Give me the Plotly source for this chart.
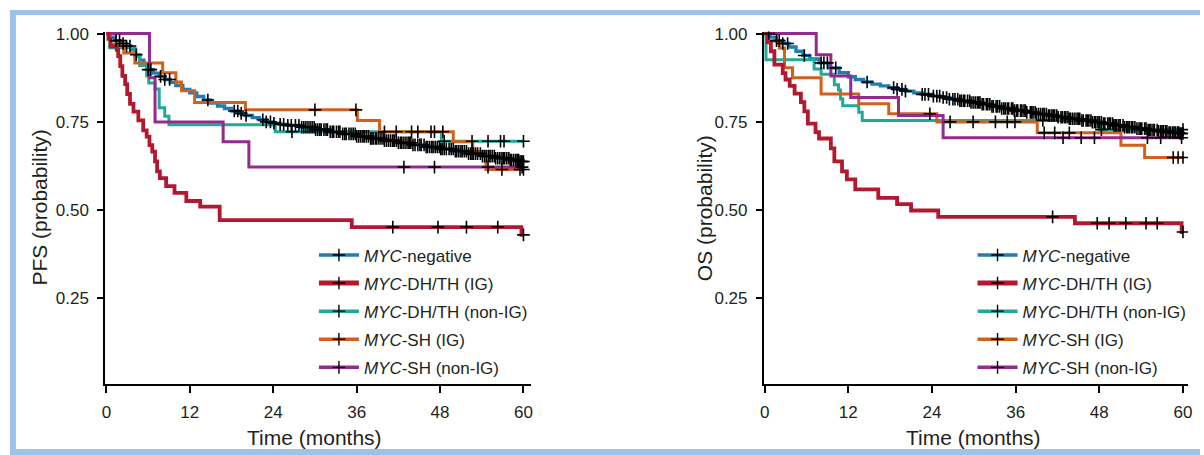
import numpy as np
import plotly.graph_objects as go

W, H = 1204, 455
END = 60

# ---------------- PFS (left panel) ----------------
pfs_neg_t = [0, 0.5, 1.2, 2.0, 2.8, 3.5, 4.2, 4.8, 5.4, 6.0, 6.8, 7.6, 8.4, 9.2, 10, 11, 12, 13, 14, 15, 16, 17, 18, 19, 20, 21, 22, 23, 24, 25, 26, 28, 30, 32, 34, 36, 38, 40, 42, 44, 46, 48, 50, 52, 54, 56, 58, 59.5]
pfs_neg_v = [1.0, 0.99, 0.98, 0.972, 0.965, 0.955, 0.94, 0.925, 0.91, 0.898, 0.888, 0.879, 0.87, 0.862, 0.853, 0.842, 0.832, 0.822, 0.812, 0.803, 0.795, 0.788, 0.781, 0.774, 0.768, 0.762, 0.756, 0.75, 0.746, 0.743, 0.74, 0.735, 0.728, 0.722, 0.716, 0.709, 0.703, 0.697, 0.691, 0.685, 0.679, 0.673, 0.667, 0.66, 0.653, 0.647, 0.642, 0.638]
pfs_neg_c = [1.4, 1.9, 2.4, 2.9, 3.4, 4.3, 6.0, 6.4, 7.8, 8.4, 9.1, 14.6, 18.4, 18.9, 19.4, 20.1, 22.5, 23.0, 23.6, 24.1, 25.0, 25.5, 26.1, 26.6, 27.2, 27.7,
             28.1, 28.4, 28.7, 29.0, 29.3, 29.6, 29.9, 30.1, 30.4, 30.7, 30.9, 31.3, 31.6, 31.8, 32.2, 32.5, 32.7, 33.1, 33.4, 33.6, 34.0, 34.3, 34.5, 34.9, 35.2, 35.5,
             35.8, 36.0, 36.3, 36.6, 36.9, 37.1, 37.4, 37.7, 38.0, 38.2, 38.4, 38.7, 38.9, 39.2, 39.5, 39.8, 40.0, 40.3, 40.6, 40.9, 41.2, 41.4, 41.7, 42.0, 42.3,
             42.5, 42.8, 43.1, 43.4, 43.6, 43.8, 44.1, 44.4, 44.8, 45.1, 45.3, 45.7, 46.0, 46.2, 46.5, 46.8, 47.0, 47.3, 47.6, 47.9, 48.1, 48.3, 48.6, 48.9, 49.3,
             49.6, 49.9, 50.2, 50.4, 50.7, 51.0, 51.2, 51.5, 51.8, 52.1, 52.4, 52.6, 52.8, 53.1, 53.4, 53.8, 54.1, 54.4, 54.7, 55.0, 55.2, 55.5, 55.8, 56.0, 56.3,
             56.6, 56.9, 57.1, 57.3, 57.6, 57.9, 58.1, 58.3, 58.6, 58.9, 59.1, 59.3, 59.5, 59.7, 59.8, 60.0]

pfs_dh_ig_t = [0, 0.3, 0.6, 1.5, 1.7, 2.0, 2.3, 2.7, 3.0, 3.4, 3.9, 4.6, 5.3, 5.8, 6.2, 6.6, 7.0, 7.3, 7.7, 8.6, 9.8, 11.5, 13.5, 16.3, 35.3, 59.7]
pfs_dh_ig_v = [1.0, 0.985, 0.964, 0.954, 0.936, 0.908, 0.88, 0.857, 0.829, 0.801, 0.779, 0.754, 0.726, 0.708, 0.684, 0.666, 0.638, 0.61, 0.591, 0.568, 0.549, 0.526, 0.51, 0.472, 0.452, 0.43]
pfs_dh_ig_c = [41.2, 47.7, 51.8, 56.3, 60.0]

pfs_dh_non_t = [0, 0.5, 4.1, 4.8, 5.8, 6.1, 7.0, 7.6, 8.4, 9.0, 24.3, 48.2]
pfs_dh_non_v = [1.0, 0.96, 0.935, 0.91, 0.88, 0.86, 0.843, 0.79, 0.766, 0.742, 0.722, 0.695]
pfs_dh_non_c = [26.7, 48.6, 52.6, 54.9, 56.7, 57.2, 60.0]

pfs_sh_ig_t = [0, 0.6, 2.5, 4.1, 8.1, 10.0, 10.8, 12.7, 20.0, 36.1, 39.3, 49.9, 52.7, 54.6]
pfs_sh_ig_v = [1.0, 0.97, 0.945, 0.917, 0.889, 0.863, 0.838, 0.805, 0.784, 0.754, 0.722, 0.694, 0.666, 0.615]
pfs_sh_ig_c = [30.0, 35.9, 40.0, 41.7, 43.9, 44.8, 46.7, 47.2, 48.4, 56.9, 59.5, 60.0]

pfs_sh_non_t = [0, 6.2, 7.0, 16.8, 20.5]
pfs_sh_non_v = [1.0, 0.875, 0.75, 0.694, 0.622]
pfs_sh_non_c = [42.8, 47.2, 54.9, 59.8]

# ---------------- OS (right panel) ----------------
os_neg_t = [0, 0.8, 1.7, 2.6, 3.5, 4.5, 5.5, 6.5, 7.8, 9.2, 10.7, 12, 13, 14.2, 15.4, 16.6, 17.8, 19, 20.2, 21.4, 22.6, 24, 25.3, 26.5, 28, 29.5, 31, 32.5, 34, 35.8, 37.5, 39, 40.6, 42, 43.6, 45.3, 47, 48.5, 50, 51.6, 53.2, 54.8, 56.5, 58, 59.5]
os_neg_v = [1.0, 0.99, 0.98, 0.972, 0.962, 0.95, 0.938, 0.928, 0.917, 0.903, 0.889, 0.878, 0.87, 0.863, 0.857, 0.852, 0.847, 0.842, 0.837, 0.832, 0.828, 0.823, 0.819, 0.814, 0.81, 0.805, 0.8, 0.794, 0.788, 0.782, 0.777, 0.772, 0.768, 0.763, 0.759, 0.754, 0.749, 0.745, 0.74, 0.735, 0.731, 0.727, 0.723, 0.72, 0.717]
os_neg_c = [0.6, 1.7, 2.1, 2.6, 3.3, 5.7, 8.1, 8.5, 9.0, 10.2, 14.7, 18.5, 19.0, 19.7, 20.2, 22.6, 23.0, 23.5, 24.2, 24.7, 25.1, 25.6, 26.1, 26.5, 27.0, 27.3, 27.7,
            28.0, 28.2, 28.5, 28.7, 29.1, 29.4, 29.6, 29.9, 30.2, 30.5, 30.7, 30.9, 31.2, 31.4, 31.8, 32.0, 32.3, 32.6, 32.8, 33.2, 33.4, 33.7, 34.0, 34.3, 34.5,
            34.8, 35.0, 35.4, 35.6, 35.8, 36.1, 36.3, 36.7, 36.9, 37.2, 37.4, 37.6, 38.1, 38.3, 38.5, 38.8, 39.0, 39.3, 39.6, 39.9, 40.1, 40.4, 40.7, 40.9,
            41.2, 41.4, 41.6, 41.9, 42.1, 42.5, 42.7, 43.0, 43.2, 43.5, 43.7, 43.9, 44.2, 44.5, 44.8, 45.0, 45.2, 45.5, 45.7, 46.1, 46.3, 46.5, 46.8, 47.0, 47.3,
            47.5, 47.8, 48.0, 48.3, 48.6, 48.8, 49.2, 49.4, 49.6, 49.9, 50.1, 50.3, 50.5, 50.8, 51.0, 51.4, 51.6, 51.9, 52.1, 52.3, 52.6, 52.8, 53.1, 53.4, 53.7,
            53.9, 54.1, 54.5, 54.7, 55.0, 55.2, 55.4, 55.7, 55.9, 56.3, 56.5, 56.8, 57.0, 57.2, 57.5, 57.7, 58.0, 58.2, 58.5, 58.7, 58.9, 59.2, 59.4, 59.6,
            59.8, 60.0]

os_dh_ig_t = [0, 0.4, 0.9, 1.4, 2.6, 3.0, 3.6, 4.3, 5.2, 5.7, 6.2, 7.3, 7.8, 9.5, 10.0, 11.1, 11.8, 13.0, 16.3, 19.0, 21.0, 24.9, 44.5, 59.8]
os_dh_ig_v = [1.0, 0.975, 0.95, 0.912, 0.888, 0.87, 0.852, 0.83, 0.806, 0.78, 0.745, 0.721, 0.703, 0.675, 0.638, 0.61, 0.587, 0.559, 0.535, 0.517, 0.499, 0.481, 0.463, 0.438]
os_dh_ig_c = [41.3, 47.7, 49.4, 51.8, 54.7, 56.3, 60.0]

os_dh_non_t = [0, 0.2, 7.1, 8.1, 10.0, 10.6, 10.9, 11.2, 13.5, 14.0, 48.0]
os_dh_non_v = [1.0, 0.926, 0.9, 0.885, 0.855, 0.84, 0.815, 0.796, 0.777, 0.754, 0.728]
os_dh_non_c = [39.9, 48.3, 60.0]

os_sh_ig_t = [0, 0.4, 2.1, 2.85, 4.0, 8.1, 13.5, 17.8, 24.7, 39.1, 51.1, 54.5]
os_sh_ig_v = [1.0, 0.979, 0.959, 0.903, 0.875, 0.829, 0.801, 0.773, 0.75, 0.719, 0.684, 0.649]
os_sh_ig_c = [23.7, 26.6, 29.9, 33.1, 34.8, 35.9, 40.1, 41.6, 43.7, 58.6, 59.3, 60.0]

os_sh_non_t = [0, 7.4, 9.5, 12.35, 19.2, 25.6]
os_sh_non_v = [1.0, 0.94, 0.88, 0.819, 0.768, 0.705]
os_sh_non_c = [42.8, 45.4, 47.3, 54.9, 56.8, 59.8]

names = ["<i>MYC</i>-negative", "<i>MYC</i>-DH/TH (IG)", "<i>MYC</i>-DH/TH (non-IG)",
         "<i>MYC</i>-SH (IG)", "<i>MYC</i>-SH (non-IG)"]
colors = ["#1f7db3", "#b2192f", "#1ea99b", "#d1601d", "#952a8d"]
widths = [3.4, 3.8, 3.0, 3.0, 3.0]

x_ticks = [0, 12, 24, 36, 48, 60]
y_ticks = [0.25, 0.50, 0.75, 1.00]
y_ticktext = ["0.25", "0.50", "0.75", "1.00"]

panels = [
    dict(xa="x", ya="y", legend="legend", series=[
        (pfs_neg_t, pfs_neg_v, pfs_neg_c), (pfs_dh_ig_t, pfs_dh_ig_v, pfs_dh_ig_c),
        (pfs_dh_non_t, pfs_dh_non_v, pfs_dh_non_c), (pfs_sh_ig_t, pfs_sh_ig_v, pfs_sh_ig_c),
        (pfs_sh_non_t, pfs_sh_non_v, pfs_sh_non_c)]),
    dict(xa="x2", ya="y2", legend="legend2", series=[
        (os_neg_t, os_neg_v, os_neg_c), (os_dh_ig_t, os_dh_ig_v, os_dh_ig_c),
        (os_dh_non_t, os_dh_non_v, os_dh_non_c), (os_sh_ig_t, os_sh_ig_v, os_sh_ig_c),
        (os_sh_non_t, os_sh_non_v, os_sh_non_c)]),
]

fig = go.Figure()


def surv_at(times, vals, c):
    idx = np.searchsorted(np.array(times), np.array(c), side="right") - 1
    return np.array(vals)[idx]


cross = dict(symbol="cross-thin", size=9, line=dict(color="black", width=1.6))

for p in panels:
    order = [0, 2, 3, 4, 1]
    for i in order:
        t, v, c = p["series"][i]
        fig.add_trace(go.Scatter(
            x=list(t) + [END], y=list(v) + [v[-1]], mode="lines",
            line=dict(color=colors[i], width=widths[i], shape="hv"),
            xaxis=p["xa"], yaxis=p["ya"], showlegend=False, hoverinfo="skip"))
    for i in order:
        t, v, c = p["series"][i]
        fig.add_trace(go.Scatter(
            x=c, y=surv_at(t, v, c), mode="markers", marker=cross,
            xaxis=p["xa"], yaxis=p["ya"], showlegend=False, hoverinfo="skip"))
    for i in range(5):
        fig.add_trace(go.Scatter(
            x=[None], y=[None], mode="lines+markers", name=names[i],
            line=dict(color=colors[i], width=5 if i == 1 else 3.5),
            marker=dict(symbol="cross-thin", size=9, line=dict(color="black", width=1.4)),
            xaxis=p["xa"], yaxis=p["ya"], legend=p["legend"], legendgroup=p["legend"] + str(i)))

axis_font = dict(family="Liberation Sans, Arial, sans-serif", size=17, color="#231f20")
common_x = dict(tickmode="array", tickvals=x_ticks, ticks="outside", ticklen=7, tickwidth=1.5,
                tickcolor="black", showline=True, linecolor="black", linewidth=2,
                showgrid=False, zeroline=False, tickfont=axis_font, ticklabelstandoff=4)
common_y = dict(tickmode="array", tickvals=y_ticks, ticktext=y_ticktext, ticks="outside", ticklen=6,
                tickwidth=1.5, tickcolor="black", showline=True, linecolor="black", linewidth=2,
                showgrid=False, zeroline=False, tickfont=axis_font, ticklabelstandoff=5,
                range=[0.0074, 1.0056])

ydom = [1 - 383 / H, 1 - 25 / H]
leg_font = dict(family="Liberation Sans, Arial, sans-serif", size=17, color="#231f20")
fig.update_layout(
    width=W, height=H, margin=dict(l=0, r=0, t=0, b=0),
    paper_bgcolor="white", plot_bgcolor="white",
    xaxis=dict(domain=[102 / W, 531 / W], range=[-0.15, 61.15], anchor="y", **common_x),
    yaxis=dict(domain=ydom, anchor="x", **common_y),
    xaxis2=dict(domain=[765 / W, 1192 / W], range=[-0.1, 60.73], anchor="y2", **common_x),
    yaxis2=dict(domain=ydom, anchor="x2", **common_y),
    legend=dict(x=312 / W, y=1 - 234 / H, xanchor="left", yanchor="top", bgcolor="rgba(0,0,0,0)",
                font=leg_font, tracegroupgap=3, itemwidth=40),
    legend2=dict(x=975 / W, y=1 - 234 / H, xanchor="left", yanchor="top", bgcolor="rgba(0,0,0,0)",
                 font=leg_font, tracegroupgap=3, itemwidth=40),
)

title_font = dict(family="Liberation Sans, Arial, sans-serif", size=21, color="#231f20")
anns = [
    dict(text="PFS (probability)", x=36 / W, y=1 - 204 / H, textangle=-90),
    dict(text="OS (probability)", x=706 / W, y=1 - 204 / H, textangle=-90),
    dict(text="Time (months)", x=313 / W, y=1 - 437 / H),
    dict(text="Time (months)", x=976 / W, y=1 - 437 / H),
]
for a in anns:
    fig.add_annotation(xref="paper", yref="paper", showarrow=False, xanchor="center",
                       yanchor="middle", font=title_font, **a)

# light-blue frame around the figure
frame = "#9dc3e6"
for x0, y0, x1, y1 in [(6, 3, W, 8), (6, 3, 12, H), (6, 449, W, H)]:
    fig.add_shape(type="rect", xref="paper", yref="paper", x0=x0 / W, x1=x1 / W,
                  y0=1 - y1 / H, y1=1 - y0 / H, fillcolor=frame, line=dict(width=0), layer="below")

fig.write_html("out.html")
